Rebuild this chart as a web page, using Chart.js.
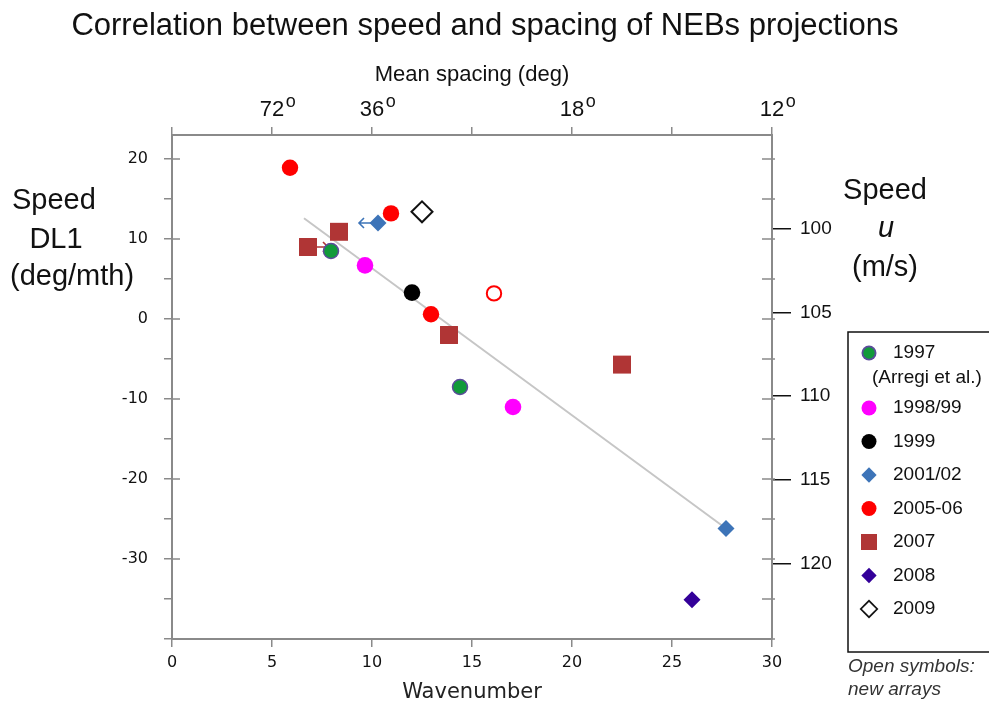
<!DOCTYPE html>
<html>
<head>
<meta charset="utf-8">
<script src="https://cdn.jsdelivr.net/npm/chart.js@4.4.1/dist/chart.umd.min.js"></script>
<style>
  html, body { margin: 0; padding: 0; background: #fff; }
  canvas { display: block; }
</style>
</head>
<body>
<canvas id="neb-chart" width="989" height="705"></canvas>
<script>
const SANS = '"Liberation Sans", Arial, sans-serif';
const TICK_SANS = '"DejaVu Sans", Verdana, sans-serif';

const chartTitle = 'Correlation between speed and spacing of NEBs projections';

// bottom axis: wavenumber
const waveMin = 0;
const waveMax = 30;
// top axis: mean spacing = 360 / wavenumber
const spacingWaves = [5, 10, 20, 30];
const spacingLabels = ['72', '36', '18', '12'];
// left axis: DL1 speed (deg/month)
const dl1Min = -40;
const dl1Max = 23;
const dl1Labelled = [20, 10, 0, -10, -20, -30];
// right axis: speed u (m/s), grows downwards
const speedTicks = [100, 105, 110, 115, 120];
const speedMin = 94.37;
const speedMax = 124.53;

// measurements per apparition
const obs1997 = [{ x: 7.95, y: 8.5 }, { x: 14.4, y: -8.5 }];
const obs1998 = [{ x: 9.65, y: 6.7 }, { x: 17.05, y: -11.0 }];
const obs1999 = [{ x: 12.0, y: 3.3 }];
const obs2001 = [{ x: 10.3, y: 12.0 }, { x: 27.7, y: -26.2 }];
const obs2005 = [{ x: 5.9, y: 18.9 }, { x: 10.95, y: 13.2 }, { x: 12.95, y: 0.6 }];
const obs2005New = [{ x: 16.1, y: 3.2 }];
const obs2007 = [{ x: 8.35, y: 10.9 }, { x: 6.8, y: 9.0 }, { x: 13.85, y: -2.0 }, { x: 22.5, y: -5.7 }];
const obs2008 = [{ x: 26.0, y: -35.1 }];
const obs2009 = [{ x: 12.5, y: 13.4 }];
const fitLine = [{ x: 6.6, y: 12.6 }, { x: 27.6, y: -26.0 }];

// small shift arrows (tail -> head)
const arrowTails = [{ x: 9.95, y: 12.0 }, { x: 7.25, y: 9.0 }];
const arrowHeads = [{ x: 9.35, y: 12.0 }, { x: 7.8, y: 9.0 }];
const arrowColors = ['#3d74b8', '#b03535'];

const legendLabels = ['1997', '1998/99', '1999', '2001/02', '2005-06', '2007', '2008', '2009'];

const datasets = [
  { label: '1997', data: obs1997, pointStyle: 'circle', pointRadius: 7.5,
    backgroundColor: '#119a3a', borderColor: '#5b4b9b', borderWidth: 1.5 },
  { label: '1998/99', data: obs1998, pointStyle: 'circle', pointRadius: 8.3,
    backgroundColor: '#ff00ff', borderColor: '#ff00ff', borderWidth: 0 },
  { label: '1999', data: obs1999, pointStyle: 'circle', pointRadius: 8.3,
    backgroundColor: '#000000', borderColor: '#000000', borderWidth: 0 },
  { label: '2001/02', data: obs2001, pointStyle: 'rectRot', pointRadius: 8.5,
    backgroundColor: '#3d74b8', borderColor: '#3d74b8', borderWidth: 0 },
  { label: '2005-06', data: obs2005, pointStyle: 'circle', pointRadius: 8.2,
    backgroundColor: '#ff0000', borderColor: '#ff0000', borderWidth: 0 },
  { label: '2005-06 new', data: obs2005New, pointStyle: 'circle', pointRadius: 7.2,
    backgroundColor: '#ffffff', borderColor: '#ff0000', borderWidth: 2 },
  { label: '2007', data: obs2007, pointStyle: 'rect', pointRadius: 12.7,
    backgroundColor: '#b03535', borderColor: '#b03535', borderWidth: 0 },
  { label: '2008', data: obs2008, pointStyle: 'rectRot', pointRadius: 8.5,
    backgroundColor: '#330099', borderColor: '#330099', borderWidth: 0 },
  { label: '2009', data: obs2009, pointStyle: 'rectRot', pointRadius: 10.5,
    backgroundColor: '#ffffff', borderColor: '#111111', borderWidth: 2 },
  { type: 'line', label: 'fit', data: fitLine, borderColor: '#c6c6c6', borderWidth: 2,
    pointRadius: 0, order: 10 },
];

const axisGrey = '#8a8a8a';

const drawMarker = (ctx, style, r, x, y) => {
  ctx.beginPath();
  if (style === 'circle') {
    ctx.arc(x, y, r, 0, Math.PI * 2);
  } else if (style === 'rect') {
    const h = r * Math.SQRT1_2;
    ctx.rect(x - h, y - h, 2 * h, 2 * h);
  } else {
    ctx.moveTo(x, y - r);
    ctx.lineTo(x + r, y);
    ctx.lineTo(x, y + r);
    ctx.lineTo(x - r, y);
    ctx.closePath();
  }
  ctx.fill();
};

const arrowPlugin = {
  id: 'arrows',
  beforeDatasetsDraw(chart) {
    const { ctx, scales } = chart;
    ctx.save();
    arrowTails.forEach((tail, i) => {
      const x0 = scales.x.getPixelForValue(tail.x);
      const y0 = scales.y.getPixelForValue(tail.y);
      const x1 = scales.x.getPixelForValue(arrowHeads[i].x);
      const y1 = scales.y.getPixelForValue(arrowHeads[i].y);
      const dir = Math.sign(x1 - x0);
      ctx.strokeStyle = arrowColors[i];
      ctx.lineWidth = 1.6;
      ctx.beginPath();
      ctx.moveTo(x0, y0);
      ctx.lineTo(x1, y1);
      ctx.moveTo(x1 - dir * 5, y1 - 5);
      ctx.lineTo(x1, y1);
      ctx.lineTo(x1 - dir * 5, y1 + 5);
      ctx.stroke();
    });
    ctx.restore();
  },
};

const framePlugin = {
  id: 'frameTicks',
  afterDraw(chart) {
    const { ctx, chartArea, scales } = chart;
    ctx.save();
    ctx.strokeStyle = axisGrey;
    ctx.lineWidth = 1.5;
    ctx.beginPath();
    for (let v = dl1Min; v <= 20; v += 5) {
      const py = scales.y.getPixelForValue(v);
      if (dl1Labelled.includes(v)) {
        ctx.moveTo(chartArea.left, py);
        ctx.lineTo(chartArea.left + 8, py);
      }
      ctx.moveTo(chartArea.right - 10, py);
      ctx.lineTo(chartArea.right + 3, py);
    }
    ctx.stroke();

    // superscript "o" after the mean spacing labels
    ctx.fillStyle = '#111';
    ctx.textBaseline = 'middle';
    ctx.textAlign = 'left';
    spacingWaves.forEach((wave, i) => {
      ctx.font = `22px ${SANS}`;
      const half = ctx.measureText(spacingLabels[i]).width / 2;
      ctx.font = `18px ${SANS}`;
      ctx.fillText('o', scales.x2.getPixelForValue(wave) + half + 1.5, 102);
    });
    ctx.restore();
  },
};

const textPlugin = {
  id: 'freeText',
  afterDraw(chart) {
    const { ctx } = chart;
    ctx.save();
    ctx.fillStyle = '#111';
    ctx.textBaseline = 'middle';

    ctx.textAlign = 'center';
    ctx.font = `31px ${SANS}`;
    ctx.fillText(chartTitle, 485, 26);

    // left axis caption
    ctx.font = `29px ${SANS}`;
    ctx.textAlign = 'left';
    ctx.fillText('Speed', 12, 201);
    ctx.textAlign = 'center';
    ctx.fillText('DL1', 56, 240);
    ctx.textAlign = 'left';
    ctx.fillText('(deg/mth)', 10, 277);

    // right axis caption
    ctx.textAlign = 'center';
    ctx.fillText('Speed', 885, 191);
    ctx.font = `italic 29px ${SANS}`;
    ctx.fillText('u', 886, 229);
    ctx.font = `29px ${SANS}`;
    ctx.fillText('(m/s)', 885, 268);

    // legend
    const boxLeft = 848;
    const boxTop = 332;
    const boxBottom = 652;
    ctx.strokeStyle = '#111';
    ctx.lineWidth = 1.5;
    ctx.strokeRect(boxLeft, boxTop, 1000 - boxLeft, boxBottom - boxTop);

    const markerX = 869;
    const textX = 893;
    ctx.font = `19px ${SANS}`;
    ctx.textAlign = 'left';
    legendLabels.forEach((label, i) => {
      const ds = datasets.find((d) => d.label === label);
      const y = i === 0 ? 353 : 408 + (i - 1) * 33.5;
      const r = ds.pointStyle === 'rect' ? 11.3 : ds.pointStyle === 'circle' ? 7.5 : ds.pointRadius * 0.9;
      ctx.fillStyle = ds.borderWidth ? ds.borderColor : ds.backgroundColor;
      drawMarker(ctx, ds.pointStyle, r, markerX, y);
      if (ds.borderWidth) {
        ctx.fillStyle = ds.backgroundColor;
        drawMarker(ctx, ds.pointStyle, r - ds.borderWidth * 1.2, markerX, y);
      }
      ctx.fillStyle = '#111';
      ctx.fillText(label, textX, y);
    });
    ctx.fillText('(Arregi et al.)', 872, 378);

    ctx.font = `italic 19px ${SANS}`;
    ctx.fillStyle = '#333';
    ctx.fillText('Open symbols:', 848, 667);
    ctx.fillText('new arrays', 848, 690);
    ctx.restore();
  },
};

const tickGrid = (color, length) => ({
  drawOnChartArea: false,
  drawTicks: true,
  tickLength: length,
  color,
  lineWidth: 1.5,
});

new Chart(document.getElementById('neb-chart'), {
  type: 'scatter',
  data: { datasets },
  plugins: [arrowPlugin, framePlugin, textPlugin],
  options: {
    responsive: false,
    animation: false,
    events: [],
    layout: { padding: 0 },
    plugins: {
      legend: { display: false },
      tooltip: { enabled: false },
      title: { display: false },
    },
    scales: {
      x: {
        type: 'linear',
        position: 'bottom',
        min: waveMin,
        max: waveMax,
        ticks: { stepSize: 5, color: '#111', padding: 6, font: { family: TICK_SANS, size: 16 } },
        grid: tickGrid(axisGrey, 8),
        border: { color: axisGrey, width: 2 },
        title: {
          display: true,
          text: 'Wavenumber',
          color: '#222',
          font: { family: TICK_SANS, size: 21 },
          padding: { top: 0, bottom: 0 },
        },
        afterFit: (scale) => { scale.height = 66; },
      },
      x2: {
        type: 'linear',
        position: 'top',
        min: waveMin,
        max: waveMax,
        ticks: {
          stepSize: 5,
          color: '#111',
          padding: 4,
          font: { family: SANS, size: 22 },
          callback: (value) => {
            const i = spacingWaves.indexOf(value);
            return i < 0 ? '' : spacingLabels[i];
          },
        },
        grid: tickGrid(axisGrey, 8),
        border: { color: axisGrey, width: 2 },
        title: {
          display: true,
          text: 'Mean spacing (deg)',
          color: '#111',
          font: { family: SANS, size: 22 },
          padding: { top: 62, bottom: 0 },
        },
        afterFit: (scale) => { scale.height = 135; },
      },
      y: {
        type: 'linear',
        position: 'left',
        min: dl1Min,
        max: dl1Max,
        afterBuildTicks: (axis) => {
          axis.ticks = axis.ticks.filter((t) => t.value % 5 === 0 && t.value <= 20);
        },
        ticks: {
          stepSize: 5,
          color: '#111',
          padding: 16,
          font: { family: TICK_SANS, size: 16 },
          callback: (value) => (dl1Labelled.includes(value) ? String(value) : ''),
        },
        grid: tickGrid(axisGrey, 8),
        border: { color: axisGrey, width: 2 },
        afterFit: (scale) => { scale.width = 172; },
      },
      y2: {
        type: 'linear',
        position: 'right',
        reverse: true,
        min: speedMin,
        max: speedMax,
        afterBuildTicks: (axis) => {
          axis.ticks = speedTicks.map((value) => ({ value }));
        },
        ticks: {
          color: '#111',
          padding: 9,
          font: { family: SANS, size: 19 },
        },
        grid: tickGrid('#111', 19),
        border: { color: axisGrey, width: 2 },
        afterFit: (scale) => { scale.width = 217; },
      },
    },
  },
});
</script>
</body>
</html>
